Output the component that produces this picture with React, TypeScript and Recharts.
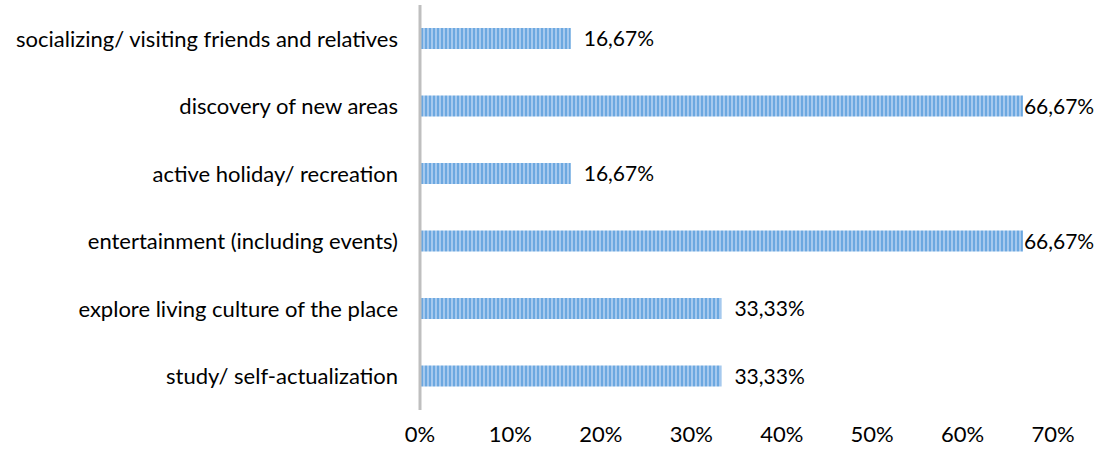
import { BarChart, Bar, XAxis, YAxis, LabelList } from 'recharts'

const categories = [
  'socializing/ visiting friends and relatives',
  'discovery of new areas',
  'active holiday/ recreation',
  'entertainment (including events)',
  'explore living culture of the place',
  'study/ self-actualization',
]
const shares = [0.1667, 0.6667, 0.1667, 0.6667, 0.3333, 0.3333]
const xTicks = [0, 0.1, 0.2, 0.3, 0.4, 0.5, 0.6, 0.7]

const data = categories.map((name, i) => ({ name, value: shares[i] }))

const W = 1097
const H = 455
const font = 'Lato, "Open Sans", sans-serif'
const fs = 22

if (typeof document !== 'undefined') {
  document.body.style.margin = '0'
  document.body.style.overflow = 'hidden'
}

const pct = (v: number) => `${Math.round(v * 100)}%`
const pct2 = (v: number) => (v * 100).toFixed(2).replace('.', ',') + '%'

// Excel-style outside-end label, pulled in against the bar when it would run off the edge
function ValueLabel(props: any) {
  const { x, y, width, height, value } = props
  const text = pct2(value)
  const textW = 72
  let lx = x + width + 13
  if (lx + textW > W - 4) lx = x + width + 1
  return (
    <text x={lx} y={y + height / 2} dy="0.36em" fontSize={21} fontFamily={font} fill="#000">
      {text}
    </text>
  )
}

export default function App() {
  return (
    <div style={{ width: W, height: H, background: '#fff' }}>
      <BarChart
        width={W}
        height={H}
        data={data}
        layout="vertical"
        margin={{ top: 5, right: 44, bottom: 0, left: 0 }}
        barCategoryGap={0}
        style={{ overflow: 'visible' }}
      >
        <defs>
          <pattern id="stripes" width={4} height={10} patternUnits="userSpaceOnUse">
            <rect width={4} height={10} fill="#a6c9ee" />
            <rect x={1} width={2} height={10} fill="#6ca8e0" />
          </pattern>
        </defs>
        <XAxis
          type="number"
          domain={[0, 0.7]}
          ticks={xTicks}
          tickFormatter={pct}
          axisLine={false}
          tickLine={false}
          tickSize={0}
          tickMargin={16}
          height={45}
          interval={0}
          tick={{ fontSize: fs, fontFamily: font, fill: '#000' }}
        />
        <YAxis
          type="category"
          dataKey="name"
          width={420}
          axisLine={{ stroke: '#bfbfbf', strokeWidth: 3 }}
          tickLine={false}
          tickSize={0}
          tickMargin={22}
          interval={0}
          tick={{ fontSize: fs, fontFamily: font, fill: '#000' }}
        />
        <Bar dataKey="value" fill="url(#stripes)" barSize={21} isAnimationActive={false}>
          <LabelList dataKey="value" content={<ValueLabel />} />
        </Bar>
      </BarChart>
    </div>
  )
}
